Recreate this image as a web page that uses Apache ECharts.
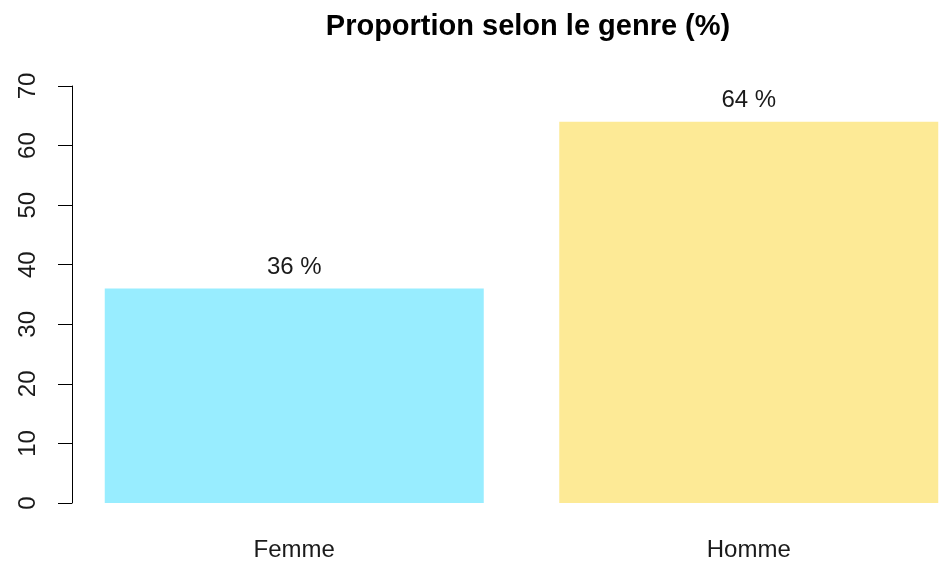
<!DOCTYPE html>
<html>
<head>
<meta charset="utf-8">
<script src="https://cdn.jsdelivr.net/npm/echarts@6/dist/echarts.min.js"></script>
<style>html,body{margin:0;padding:0;background:#fff;overflow:hidden;width:942px;height:564px}#c{width:990px;height:564px}</style>
</head>
<body>
<div id="c"></div>
<script>
const categories = ['Femme', 'Homme'];
const values = [36, 64];
const barColors = ['#98EDFF', '#FDEA96'];
const yTicks = [0, 10, 20, 30, 40, 50, 60, 70];
const titleText = 'Proportion selon le genre (%)';

const FONT = '"Liberation Sans", Arial, sans-serif';
const chart = echarts.init(document.getElementById('c'), null, {renderer: 'canvas'});
chart.setOption({
  animation: false,
  backgroundColor: '#fff',
  title: {
    text: titleText,
    left: 523,
    textAlign: 'center',
    top: 7,
    textStyle: {fontFamily: FONT, fontSize: 29, fontWeight: 'bold', color: '#000'}
  },
  grid: {left: 67, top: 86, width: 909, bottom: 61, containLabel: false},
  xAxis: {
    type: 'category',
    data: categories,
    axisLine: {show: false},
    axisTick: {show: false},
    axisLabel: {margin: 35, fontFamily: FONT, fontSize: 24, color: '#1a1a1a'}
  },
  yAxis: {
    type: 'value',
    min: yTicks[0],
    max: yTicks[yTicks.length - 1],
    interval: 10,
    offset: -5,
    splitLine: {show: false},
    axisLine: {show: true, lineStyle: {color: '#000', width: 1}},
    axisTick: {show: true, length: 14, lineStyle: {color: '#000', width: 1}},
    axisLabel: {rotate: 90, margin: 32, fontFamily: FONT, fontSize: 24, color: '#1a1a1a'}
  },
  series: [{
    type: 'bar',
    barWidth: 379,
    data: values.map((v, i) => ({value: v, itemStyle: {color: barColors[i]}})),
    label: {
      show: true,
      position: 'top',
      distance: 9,
      formatter: p => p.value + ' %',
      fontFamily: FONT, fontSize: 24, color: '#1a1a1a'
    }
  }]
});
</script>
</body>
</html>
